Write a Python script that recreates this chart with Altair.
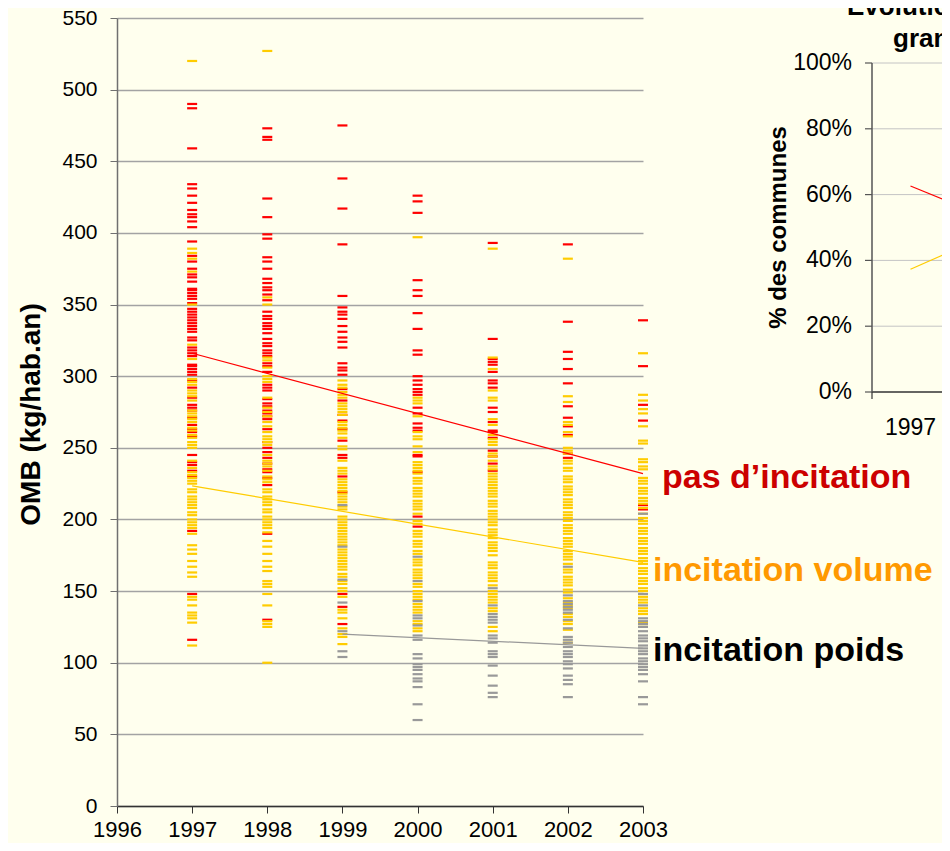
import altair as alt
import pandas as pd

FONT = "Liberation Sans"

# ---------------- data : OMB (kg/hab.an) per commune, per year ----------------
years = [1997, 1998, 1999, 2000, 2001, 2002, 2003]
axis_years = [1996, 1997, 1998, 1999, 2000, 2001, 2002, 2003]
y_ticks = [0, 50, 100, 150, 200, 250, 300, 350, 400, 450, 500, 550]

# "pas d'incitation" (red)
pas_1997 = [490, 487, 459, 434, 431, 426, 421, 416, 413, 411, 408, 404, 394, 384, 380, 375, 371, 369, 366,
            361, 360, 358, 356, 354, 351, 347, 345, 343, 341, 339, 337, 335, 333, 331, 327, 325, 320, 318,
            316, 314, 308, 307, 305, 303, 301, 297, 292, 285, 280, 278, 276, 271, 266, 263, 261, 258, 245,
            240, 238, 234, 230, 192, 148, 116]
pas_1998 = [473, 467, 465, 424, 411, 399, 396, 383, 380, 375, 368, 365, 362, 360, 357, 353, 345, 342, 340,
            337, 335, 333, 330, 326, 323, 321, 318, 316, 314, 309, 307, 303, 294, 292, 290, 284, 281, 279,
            276, 274, 272, 270, 263, 254, 250, 247, 243, 239, 235, 233, 229, 224, 190, 130]
pas_1999 = [475, 438, 417, 392, 356, 348, 345, 343, 340, 335, 331, 327, 324, 320, 309, 306, 304, 301, 291,
            283, 273, 269, 263, 255, 245, 243, 230, 219, 148, 139, 127]
pas_2000 = [426, 422, 414, 367, 360, 356, 344, 333, 318, 315, 300, 297, 294, 291, 289, 287, 278, 274, 267,
            264, 262, 245, 244, 233, 202, 195]
pas_2001 = [393, 326, 312, 310, 308, 303, 297, 295, 292, 278, 275, 268, 262, 261, 257, 248, 244, 239, 234]
pas_2002 = [392, 338, 317, 312, 305, 295, 279, 271, 265, 259, 246, 243]
pas_2003 = [339, 307, 280, 269, 210, 207]

# "incitation volume" (yellow)
vol_1997 = [520, 389, 386, 382, 373, 350, 322, 312, 298, 296, 294, 290, 288, 286, 283, 276, 274, 272, 270,
            268, 264, 262, 259, 257, 254, 252, 250, 241, 236, 233, 231, 229, 227, 225, 221, 219, 216, 214,
            212, 210, 208, 205, 203, 200, 198, 196, 194, 190, 182, 179, 176, 171, 167, 163, 160, 146, 144,
            140, 135, 133, 131, 128, 112]
vol_1998 = [527, 355, 350, 313, 311, 306, 300, 298, 296, 285, 278, 275, 272, 268, 265, 261, 258, 256, 254,
            252, 245, 241, 239, 237, 234, 230, 228, 226, 221, 219, 216, 214, 212, 210, 207, 205, 202, 200,
            198, 196, 194, 191, 185, 181, 176, 171, 167, 164, 157, 155, 153, 148, 140, 129, 127, 125, 100]
vol_1999 = [297, 294, 292, 289, 287, 285, 281, 279, 277, 275, 273, 268, 266, 264, 262, 260, 257, 251, 249,
            241, 236, 234, 232, 228, 226, 224, 222, 220, 218, 216, 214, 212, 209, 207, 202, 200, 198, 196,
            194, 192, 190, 188, 186, 184, 182, 179, 177, 175, 173, 171, 169, 167, 165, 162, 160, 157, 155,
            152, 150, 146, 137, 135, 131, 124, 120, 118, 113]
vol_2000 = [397, 285, 283, 281, 272, 261, 258, 256, 251, 247, 240, 238, 236, 234, 232, 229, 227, 225, 222,
            220, 218, 216, 213, 211, 209, 207, 204, 199, 197, 192, 190, 188, 185, 183, 181, 178, 176, 172,
            170, 168, 165, 163, 161, 159, 155, 153, 150, 148, 146, 144, 141, 139, 137, 135, 129, 127, 124,
            122]
vol_2001 = [389, 313, 305, 290, 285, 283, 270, 266, 259, 256, 254, 252, 246, 244, 241, 237, 235, 232, 230,
            228, 226, 224, 222, 220, 218, 216, 213, 211, 209, 206, 204, 202, 200, 198, 196, 193, 191, 189,
            187, 184, 182, 180, 178, 175, 170, 168, 166, 163, 161, 159, 157, 154, 150, 148, 146, 144, 142,
            138, 136, 125, 122]
vol_2002 = [382, 286, 282, 268, 266, 261, 258, 250, 248, 246, 241, 239, 236, 234, 230, 228, 226, 223, 221,
            219, 217, 214, 212, 210, 208, 205, 203, 201, 199, 196, 194, 192, 190, 187, 185, 183, 181, 178,
            176, 174, 172, 169, 165, 163, 160, 158, 156, 154, 151, 149, 145, 142, 140, 138, 134, 132, 129,
            127, 123, 114]
vol_2003 = [316, 287, 283, 277, 274, 265, 255, 253, 242, 240, 237, 235, 229, 227, 225, 222, 220, 218, 215,
            213, 211, 208, 204, 201, 199, 197, 194, 192, 190, 187, 185, 183, 180, 178, 176, 173, 171, 169,
            166, 164, 162, 159, 157, 155, 152, 150, 146, 144, 142, 138, 136, 134, 128, 125]

# "incitation poids" (grey)
poi_1997 = []
poi_1998 = []
poi_1999 = [210, 181, 158, 142, 122, 108, 104]
poi_2000 = [174, 157, 143, 133, 131, 126, 119, 116, 106, 103, 99, 97, 95, 92, 89, 87, 83, 71, 60]
poi_2001 = [152, 140, 134, 132, 130, 128, 119, 117, 114, 108, 106, 104, 98, 91, 84, 79, 76]
poi_2002 = [167, 147, 143, 141, 139, 137, 135, 130, 124, 118, 116, 114, 111, 108, 106, 104, 101, 99, 96,
            91, 88, 85, 76]
poi_2003 = [204, 148, 140, 131, 129, 127, 125, 122, 119, 117, 115, 112, 110, 108, 106, 103, 101, 99, 97,
            95, 92, 87, 76, 71]

# trend lines (end points)
trend_pas_years = [1997, 2003]
trend_pas_values = [316, 232]
trend_vol_years = [1997, 2003]
trend_vol_values = [223.5, 170]
trend_poi_years = [1999, 2003]
trend_poi_values = [120, 110]

# labels at the right of the chart
label_texts = ["pas d\u2019incitation", "incitation volume", "incitation poids"]
label_values = [222, 157, 101.5]
label_colors = ["#CC0000", "#FF9900", "#000000"]

groups = ["pas", "volume", "poids"]
group_colors = ["#FF0000", "#FFCC00", "#999999"]

# inset chart: % des communes
inset_years = [1997, 1998]
inset_pas = [62.6, 53.0]
inset_vol = [37.3, 47.7]
inset_pct_ticks = [0, 20, 40, 60, 80, 100]
inset_pct_labels = ["0%", "20%", "40%", "60%", "80%", "100%"]
inset_grid = [20, 40, 60, 80, 100]
inset_cat_labels = ["1997"]
inset_cat_values = [1997]
inset_cat_edges = [1996.5, 1997.5]
inset_title_1 = "Evolutio"
inset_title_2 = "gran"

# ---------------- build tables ----------------
rows = []
for g, per_year in [("pas", [pas_1997, pas_1998, pas_1999, pas_2000, pas_2001, pas_2002, pas_2003]),
                    ("volume", [vol_1997, vol_1998, vol_1999, vol_2000, vol_2001, vol_2002, vol_2003]),
                    ("poids", [poi_1997, poi_1998, poi_1999, poi_2000, poi_2001, poi_2002, poi_2003])]:
    for yr, vals in zip(years, per_year):
        for v in vals:
            rows.append({"year": yr, "value": v, "group": g})
ticks_df = pd.DataFrame(rows)

trend_rows = []
for g, ys, vs in [("pas", trend_pas_years, trend_pas_values),
                  ("volume", trend_vol_years, trend_vol_values),
                  ("poids", trend_poi_years, trend_poi_values)]:
    for yr, v in zip(ys, vs):
        trend_rows.append({"year": yr, "value": v, "group": g})
trend_df = pd.DataFrame(trend_rows)

color_enc = alt.Color("group:N", scale=alt.Scale(domain=groups, range=group_colors), legend=None)

x_axis = alt.Axis(values=axis_years, format="d", grid=False, domainColor="#333333", domainWidth=1.3,
                  tickColor="#333333", tickSize=7, labelFontSize=22, labelPadding=6, labelColor="black",
                  labelFlush=False, labelOverlap=False, title=None)
y_axis = alt.Axis(values=y_ticks, grid=True, gridColor="#a3a3a3", gridWidth=1.3, domainColor="#707070",
                  domainWidth=1.5, tickColor="#707070", tickSize=7, labelFontSize=21, labelPadding=13,
                  labelColor="black", labelOverlap=False, title="OMB (kg/hab.an)", titleFontSize=28,
                  titleFontWeight="bold", titleColor="black", titleAngle=270, titleX=-78, titleY=396,
                  titleAlign="center", titleBaseline="alphabetic")

x_main = alt.X("year:Q", scale=alt.Scale(domain=[1996, 2003], nice=False, zero=False), axis=x_axis)
y_main = alt.Y("value:Q", scale=alt.Scale(domain=[0, 550], nice=False), axis=y_axis)

ticks = alt.Chart(ticks_df).mark_tick(orient="horizontal", size=10, thickness=2.2, opacity=1).encode(
    x=x_main, y=y_main, color=color_enc)

trends = alt.Chart(trend_df).mark_line(strokeWidth=1.2).encode(
    x=x_main, y=y_main, color=color_enc, detail="group:N")

label_layers = []
for txt, val, col in zip(label_texts, label_values, label_colors):
    ldf = pd.DataFrame({"year": [2003], "value": [val], "label": [txt]})
    label_layers.append(
        alt.Chart(ldf).mark_text(align="left", baseline="alphabetic", dx=19 if txt.startswith("pas") else 10,
                                 fontSize=34, fontWeight="bold", color=col).encode(
            x=x_main, y=y_main, text="label:N"))

main = alt.layer(ticks, trends, *label_layers)

# ---------------- inset ----------------
isx = alt.Scale(domain=[1996.5, 1998.5], range=[755, 909], nice=False, zero=False)
isy = alt.Scale(domain=[0, 100], range=[374, 45], nice=False, zero=False)


def IX(f):
    return alt.X(f, type="quantitative", scale=isx, axis=None)


def IY(f):
    return alt.Y(f, type="quantitative", scale=isy, axis=None)


x_lo, x_hi = 1996.5, 1998.5

grid_df = pd.DataFrame({"pct": inset_grid, "x0": [x_lo] * len(inset_grid), "x1": [x_hi] * len(inset_grid)})
inset_grid_layer = alt.Chart(grid_df).mark_rule(color="#c4c4c4", strokeWidth=1).encode(
    x=IX("x0"), x2="x1", y=IY("pct"))

yline_df = pd.DataFrame({"x0": [x_lo], "p0": [0], "p1": [100]})
inset_yline = alt.Chart(yline_df).mark_rule(color="#555555", strokeWidth=1.5).encode(
    x=IX("x0"), y=IY("p0"), y2="p1")

xline_df = pd.DataFrame({"p0": [0], "x0": [x_lo], "x1": [x_hi]})
inset_xline = alt.Chart(xline_df).mark_rule(color="#333333", strokeWidth=1.5).encode(
    x=IX("x0"), x2="x1", y=IY("p0"))

ytick_df = pd.DataFrame({"pct": inset_pct_ticks, "x0": [x_lo] * len(inset_pct_ticks), "label": inset_pct_labels})
inset_yticks = alt.Chart(ytick_df).mark_rule(color="#555555", strokeWidth=1.2, xOffset=-7).encode(
    x=IX("x0"), x2="x0", y=IY("pct"))
inset_ylabels = alt.Chart(ytick_df).mark_text(align="right", baseline="middle", dx=-20, fontSize=23,
                                              color="black").encode(
    x=IX("x0"), y=IY("pct"), text="label:N")

xtick_df = pd.DataFrame({"edge": inset_cat_edges, "p0": [0] * len(inset_cat_edges)})
inset_xticks = alt.Chart(xtick_df).mark_rule(color="#333333", strokeWidth=1.2, y2Offset=7).encode(
    x=IX("edge"), y=IY("p0"), y2="p0")

xlab_df = pd.DataFrame({"yr": inset_cat_values, "p0": [0] * len(inset_cat_values), "label": inset_cat_labels})
inset_xlabels = alt.Chart(xlab_df).mark_text(align="center", baseline="alphabetic", dy=43, fontSize=23,
                                             color="black").encode(
    x=IX("yr"), y=IY("p0"), text="label:N")

inset_line_layers = []
for vals, col in [(inset_pas, "#FF0000"), (inset_vol, "#FFCC00")]:
    ldf = pd.DataFrame({"yr": inset_years, "pct": vals})
    inset_line_layers.append(alt.Chart(ldf).mark_line(color=col, strokeWidth=1.2).encode(
        x=IX("yr"), y=IY("pct")))

ytitle_df = pd.DataFrame({"x0": [x_lo], "p": [50], "label": ["% des communes"]})
inset_ytitle = alt.Chart(ytitle_df).mark_text(angle=270, align="center", baseline="middle", dy=-93,
                                              fontSize=24, fontWeight="bold", color="black").encode(
    x=IX("x0"), y=IY("p"), text="label:N")

title_df1 = pd.DataFrame({"x0": [x_lo], "p": [100], "label": [inset_title_1]})
title_df2 = pd.DataFrame({"x0": [x_lo], "p": [100], "label": [inset_title_2]})
inset_t1 = alt.Chart(title_df1).mark_text(align="left", baseline="alphabetic", dx=-25, dy=-48, fontSize=26,
                                          fontWeight="bold", color="black").encode(
    x=IX("x0"), y=IY("p"), text="label:N")
inset_t2 = alt.Chart(title_df2).mark_text(align="left", baseline="alphabetic", dx=21, dy=-16, fontSize=26,
                                          fontWeight="bold", color="black").encode(
    x=IX("x0"), y=IY("p"), text="label:N")

inset = alt.layer(inset_grid_layer, inset_xline, inset_yline, inset_yticks, inset_xticks, inset_ylabels,
                  inset_xlabels, *inset_line_layers, inset_ytitle, inset_t1, inset_t2)

chart = alt.layer(main, inset).resolve_scale(x="independent", y="independent").properties(
    width=526, height=788, autosize="none",
    padding={"left": 109, "top": 10, "right": 299, "bottom": 37},
).configure(background="#FFFFEE", font=FONT).configure_view(strokeWidth=0).configure_axis(
    labelFont=FONT, titleFont=FONT).configure_text(font=FONT)

chart.save("out.html", embed_options={"renderer": "svg", "actions": False})
